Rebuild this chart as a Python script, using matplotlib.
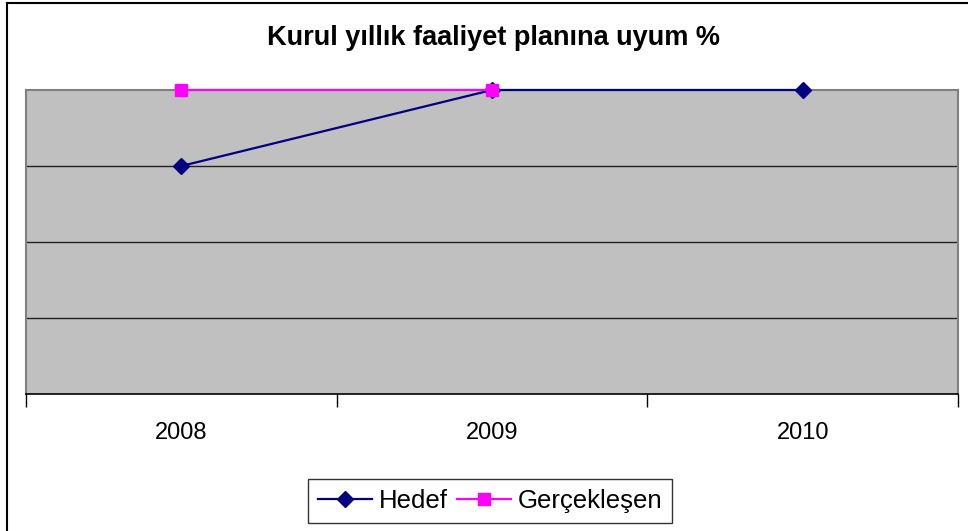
import matplotlib.pyplot as plt
from matplotlib.lines import Line2D

plt.rcParams['font.family'] = ['Liberation Sans', 'DejaVu Sans']

years = ["2008", "2009", "2010"]
hedef = [75, 100, 100]
gerceklesen = [100, 100]

fig = plt.figure(figsize=(9.68, 5.31), dpi=100)
ax = fig.add_axes([26 / 968, 137 / 531, 932 / 968, 304 / 531])
ax.set_facecolor("#c0c0c0")

x = list(range(len(years)))
ax.plot(x, hedef, color="#000080", lw=1.6, marker="D", markersize=8.5,
        label="Hedef", clip_on=False, zorder=3)
ax.plot(x[:len(gerceklesen)], gerceklesen, color="#ff00ff", lw=1.6,
        marker="s", markersize=8, label="Gerçekleşen", clip_on=False, zorder=4)

ax.set_xlim(-0.5, 2.5)
ax.set_ylim(0, 100)
ax.set_yticks([25, 50, 75])
ax.yaxis.grid(True, color="#202020", lw=1)
ax.set_axisbelow(True)
ax.tick_params(axis="y", left=False, labelleft=False)

ax.set_xticks([-0.5, 0.5, 1.5, 2.5])
ax.set_xticklabels([])
ax.set_xticks(x, minor=True)
ax.set_xticklabels(years, minor=True, fontsize=17)
ax.tick_params(axis="x", which="major", direction="out", length=9, width=1, color="#000000")
ax.tick_params(axis="x", which="minor", length=0, pad=20)

for side in ["left", "top", "right"]:
    ax.spines[side].set_color("#808080")
    ax.spines[side].set_linewidth(1.5)
ax.spines["bottom"].set_color("#000000")
ax.spines["bottom"].set_linewidth(1.2)

fig.suptitle("Kurul yıllık faaliyet planına uyum %", x=493 / 968, y=1 - 38 / 531,
             va="center", fontsize=19.5, fontweight="bold")

handles = [
    Line2D([], [], color="#000080", lw=1.6, marker="D", markersize=8.5),
    Line2D([], [], color="#ff00ff", lw=1.6, marker="s", markersize=8),
]
leg = fig.legend(handles, ["Hedef", "Gerçekleşen"], loc="center",
                 bbox_to_anchor=(490 / 968, 1 - 501 / 531), ncol=2, fontsize=18.5,
                 frameon=True, fancybox=False, edgecolor="#000000",
                 handlelength=2.1, handletextpad=0.27, columnspacing=0.35,
                 borderpad=0.4, borderaxespad=0)
leg.get_frame().set_linewidth(1)

# outer chart border (left and top edges visible)
fig.add_artist(Line2D([6.5 / 968, 6.5 / 968], [0, 1 - 2.5 / 531], color="black",
                      lw=1.5, transform=fig.transFigure))
fig.add_artist(Line2D([6.5 / 968, 1], [1 - 2.5 / 531, 1 - 2.5 / 531], color="black",
                      lw=1.5, transform=fig.transFigure))

fig.savefig("out.png", dpi=100)
